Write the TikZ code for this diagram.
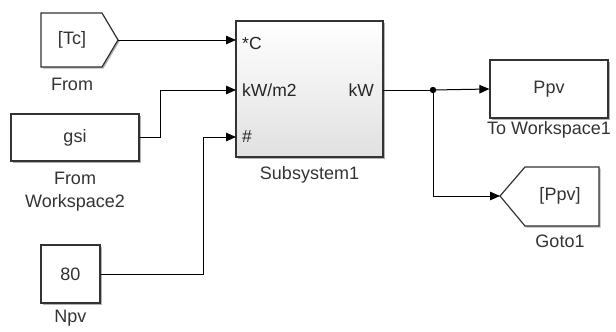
\documentclass[tikz,border=0pt]{standalone}
\usepackage{fontspec}
\setmainfont{Liberation Sans}
\usetikzlibrary{arrows.meta,shadows}
\begin{document}
\begin{tikzpicture}[x=1pt,y=-1pt,
  shd/.style={drop shadow={shadow xshift=1.5pt,shadow yshift=-1.5pt,opacity=0.3,fill=black}},
  blk/.style={draw=black!80,line width=1.2pt,fill=white,shd,font=\fontsize{18}{20}\selectfont,text=black!80,inner sep=0pt},
  subblk/.style={draw=black!80,line width=1.2pt,top color=white,bottom color=black!12,shd,inner sep=0pt},
  lbl/.style={font=\fontsize{18}{20}\selectfont,text=black!80,inner sep=0pt},
  port/.style={font=\fontsize{17.5}{19}\selectfont,text=black!85,inner sep=0pt},
  conn/.style={draw=black,line width=1pt,-{Triangle[length=10pt,width=8.5pt]}},
  wire/.style={draw=black,line width=1pt}]
\useasboundingbox (0,0) rectangle (616,332);

% From block (pentagon)
\draw[blk] (41,13) -- (102,13) -- (118,40) -- (102,67) -- (41,67) -- cycle;
\node[lbl] (from) at (72,40) {[Tc]};
\coordinate (fromout) at (118,40);
\node[lbl] (fromlbl) at (72,84) {From};

% From Workspace2
\node[blk,minimum width=128pt,minimum height=47pt] (gsi) at (75,137.5) {gsi};
\node[lbl] (gsilbl1) at (75,178) {From};
\node[lbl] (gsilbl2) at (75,203) {Workspace2};

% Constant Npv
\node[blk,minimum width=59pt,minimum height=58pt] (npv) at (70.5,274) {80};
\node[lbl] (npvlbl) at (70.5,318) {Npv};

% Subsystem
\node[subblk,minimum width=147pt,minimum height=136pt] (sub) at (309.5,89) {};
\coordinate (p1) at (236,41);
\coordinate (p2) at (236,90);
\coordinate (p3) at (236,137);
\coordinate (pout) at (383,90);
\node[port,anchor=west] (t1) at (242,43) {*C};
\node[port,anchor=west] (t2) at (242,90) {kW/m2};
\node[port,anchor=west] (t3) at (242,137) {\#};
\node[port,anchor=east] (t4) at (374,90) {kW};
\node[lbl] (sublbl) at (309.5,175) {Subsystem1};

% To Workspace1
\node[blk,minimum width=118pt,minimum height=58pt] (tw) at (549,89) {Ppv};
\node[lbl] (twlbl) at (549,130) {To Workspace1};

% Goto1
\draw[blk] (500,196) -- (525,167) -- (599,167) -- (599,226) -- (525,226) -- cycle;
\node[lbl] (goto) at (560,196) {[Ppv]};
\coordinate (gotoin) at (500,196);
\node[lbl] (gotolbl) at (560,241) {Goto1};

% Junction
\coordinate (j) at (433,90);

% Connectors
\draw[conn] (fromout) -- (fromout -| p1);
\draw[conn] (gsi.east) -- ++(21,0) |- (p2);
\draw[conn] (npv.east) -- ++(103,0) |- (p3);
\draw[wire] (pout) -- (j);
\draw[conn] (j) -- (tw.west);
\draw[conn] (j) |- (gotoin);
\fill (j) circle (3.2pt);
\end{tikzpicture}
\end{document}
